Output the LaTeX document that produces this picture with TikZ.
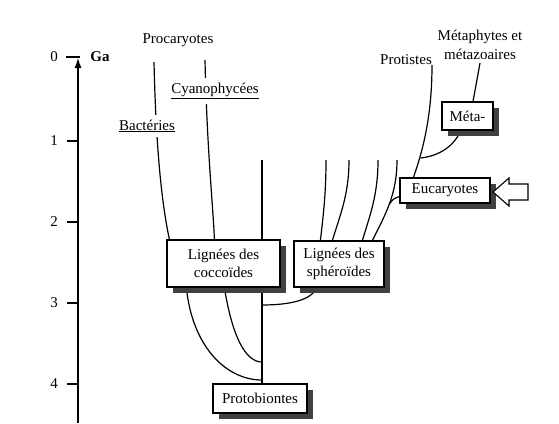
\documentclass[tikz,border=0pt]{standalone}
\usepackage{fontspec}
\setmainfont{Liberation Serif}
\usetikzlibrary{shadows,calc,arrows.meta}
\pgfdeclarelayer{background}
\pgfsetlayers{background,main}
\newcommand{\diagfont}{\fontsize{15}{18.5}\selectfont}
\begin{document}
\begin{tikzpicture}[x=1pt,y=-1pt, line width=1.2pt,
  box/.style={draw, fill=white, line width=1.2pt, align=center, inner sep=0pt, font=\diagfont,
    drop shadow={shadow xshift=6pt, shadow yshift=-6pt, fill=black!75, opacity=1}},
  lbl/.style={font=\diagfont, align=center, inner sep=1pt},
  gaplbl/.style={lbl, fill=white, inner sep=5pt},
  axlbl/.style={font=\diagfont, inner sep=1pt},
  branch/.style={line width=1.2pt}]
\useasboundingbox (0,0) rectangle (559,423);

% boxes
\node[box, minimum width=113pt, minimum height=47pt] (coc) at (223.5,263.5) {Lignées des\\coccoïdes};
\node[box, minimum width=90pt, minimum height=46pt] (sph) at (339,264) {Lignées des\\sphéroïdes};
\node[box, minimum width=94pt, minimum height=29pt] (proto) at (260,398.5) {Protobiontes};
\node[box, minimum width=90pt, minimum height=25pt] (euc) at (445,190.5) {Eucaryotes};
\node[box, minimum width=51pt, minimum height=28pt] (meta) at (467.5,116) {Méta-};

% labels
\node[lbl] (proc) at (178,40) {Procaryotes};
\node[gaplbl] (cyan) at (215,91) {\underline{Cyanophycées}};
\node[gaplbl] (bact) at (147,126) {\underline{Bactéries}};
\node[lbl] (prot) at (406,60) {Protistes};
\node[lbl] (metaz) at (480,45) {Métaphytes et\\métazoaires};

% axis
\node[axlbl] (ga) at (100,57) {\bfseries Ga};
\node[axlbl] (t0) at (54,57) {0};
\node[axlbl] (t1) at (54,141) {1};
\node[axlbl] (t2) at (54,222) {2};
\node[axlbl] (t3) at (54,303) {3};
\node[axlbl] (t4) at (54,384) {4};
\coordinate (axtop) at (78,58);
\coordinate (axbot) at (78,423);
\draw[-{Latex[length=10pt,width=7pt]}] (axbot) -- (axtop);
\draw (66,57) -- (80,57);
\foreach \yy in {141,222,303,384} { \draw (67,\yy) -- (78,\yy); }

% block arrow pointing at Eucaryotes
\draw[fill=white, line width=1.1pt] (493,192) -- (509,178) -- (509,184) -- (528,184) -- (528,200) -- (509,200) -- (509,206) -- cycle;

\begin{pgfonlayer}{background}
\begin{scope}[branch]
  \coordinate (bt) at (154,62);
  \coordinate (ct) at (205,60);
  \coordinate (vt) at (262,160);
  \coordinate (j1) at (262,380);
  \coordinate (j2) at (262,362);
  \coordinate (j3) at (262,305);
  \coordinate (s1) at (326,160);
  \coordinate (s2) at (349,160);
  \coordinate (s3) at (378,160);
  \coordinate (s4) at (397,160);
  \coordinate (bj) at (389.5,204);
  \coordinate (pt) at (432,65);
  \coordinate (pj) at (420.5,158);
  \coordinate (mt) at (480,63);

  \draw (bt) .. controls (156,150) and (162,205) .. ([xshift=3pt]coc.north west);
  \draw (ct) .. controls (207,150) and (213,205) .. ([xshift=48pt]coc.north west);
  \draw (vt) -- (vt |- proto.north);
  \draw ([xshift=20pt]coc.south west) .. controls (192,345) and (225,380) .. (j1);
  \draw ([xshift=58pt]coc.south west) .. controls (232,335) and (245,362) .. (j2);
  \draw (j3) .. controls (290,305) and (312,300) .. ([xshift=23pt]sph.south west);

  \draw ([xshift=27pt]sph.north west) .. controls (324,210) and (326,190) .. (s1);
  \draw ([xshift=39pt]sph.north west) .. controls (340,215) and (349,195) .. (s2);
  \draw ([xshift=69pt]sph.north west) .. controls (370,215) and (378,195) .. (s3);
  \draw ([xshift=79pt]sph.north west) .. controls (385,215) and (397,195) .. (s4);
  \draw (bj) .. controls (393,199) .. ([yshift=-6pt]euc.west);

  \draw ([xshift=14pt]euc.north west) .. controls (425,145) and (432,110) .. (pt);
  \draw (pj) .. controls (440,156) and (455,145) .. ([xshift=-7pt]meta.south);
  \draw ([xshift=5.5pt]meta.north) .. controls (476,85) .. (mt);
\end{scope}
\end{pgfonlayer}
\end{tikzpicture}
\end{document}
